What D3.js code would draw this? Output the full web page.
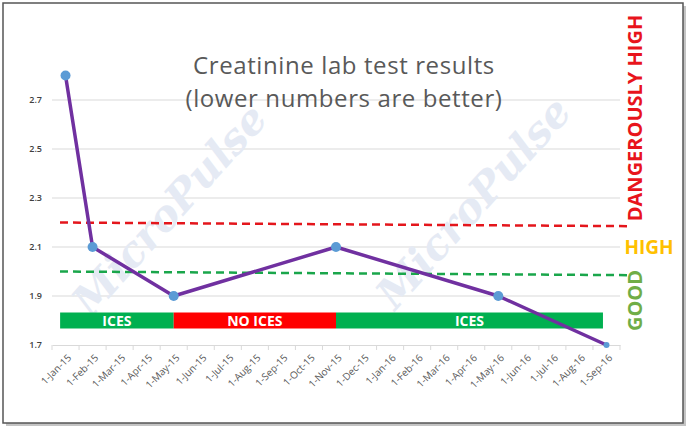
<!DOCTYPE html>
<html>
<head>
<meta charset="utf-8">
<script src="https://cdn.jsdelivr.net/npm/d3@7"></script>
<style>
  html, body { margin: 0; padding: 0; background: #fff; }
  svg { display: block; }
</style>
</head>
<body>
<svg id="chart" width="690" height="429"></svg>
<script>
// ---------------- DATA ----------------
const categories = [
  "1-Jan-15","1-Feb-15","1-Mar-15","1-Apr-15","1-May-15","1-Jun-15","1-Jul-15",
  "1-Aug-15","1-Sep-15","1-Oct-15","1-Nov-15","1-Dec-15","1-Jan-16","1-Feb-16",
  "1-Mar-16","1-Apr-16","1-May-16","1-Jun-16","1-Jul-16","1-Aug-16","1-Sep-16"
];
const creatinineDates  = ["1-Jan-15","1-Feb-15","1-May-15","1-Nov-15","1-May-16","1-Sep-16"];
const creatinineValues = [2.8, 2.1, 1.9, 2.1, 1.9, 1.7];
const yTicks = [1.7, 1.9, 2.1, 2.3, 2.5, 2.7];
const dangerLine = [2.2, 2.185];   // start, end
const goodLine   = [2.0, 1.985];   // start, end
const iceSegments = [
  { label: "ICES",    start: "1-Jan-15", end: "1-May-15", kind: "ices" },
  { label: "NO ICES", start: "1-May-15", end: "1-Nov-15", kind: "noices" },
  { label: "ICES",    start: "1-Nov-15", end: "1-Sep-16", kind: "ices" }
];
const iceBandValue = 1.8;
const titleLines = ["Creatinine lab test results", "(lower numbers are better)"];
const zoneLabels = { danger: "DANGEROUSLY HIGH", high: "HIGH", good: "GOOD" };
const watermark = "MicroPulse";

// ---------------- LAYOUT ----------------
const svg = d3.select("#chart");
const plot = { left: 52, right: 620, top: 51, bottom: 345 };

const x = d3.scaleBand().domain(categories).range([plot.left, plot.right]).padding(0);
const bw = x.bandwidth();
const cx = d => x(d) + bw / 2;
const y = d3.scaleLinear().domain([1.7, 2.9]).range([plot.bottom, plot.top]);

// frame with shadow
svg.append("rect").attr("x", 6).attr("y", 6).attr("width", 680).attr("height", 420)
  .attr("fill", "#c4c4c4");
svg.append("rect").attr("x", 3).attr("y", 3).attr("width", 680).attr("height", 420)
  .attr("fill", "#fff").attr("stroke", "#555").attr("stroke-width", 1.5);

// gridlines
svg.append("g").selectAll("line").data(yTicks.slice(1)).join("line")
  .attr("x1", plot.left).attr("x2", plot.right)
  .attr("y1", d => y(d)).attr("y2", d => y(d))
  .attr("stroke", "#d9d9d9").attr("stroke-width", 1);

// watermark
svg.append("g").selectAll("text").data([[172, 212], [476, 205]]).join("text")
  .attr("transform", d => `translate(${d[0]},${d[1]}) rotate(-48)`)
  .attr("text-anchor", "middle").attr("dominant-baseline", "middle")
  .attr("font-family", "DejaVu Serif").attr("font-style", "italic").attr("font-weight", "bold")
  .attr("font-size", 42).attr("fill", "#e5eaf4")
  .text(watermark);

// y axis labels
svg.append("g").selectAll("text").data(yTicks).join("text")
  .attr("x", 42).attr("y", d => y(d)).attr("dy", "0.35em")
  .attr("text-anchor", "end")
  .attr("font-family", "Open Sans, Liberation Sans, sans-serif").attr("font-weight", 600)
  .attr("font-size", 9).attr("fill", "#404040")
  .text(d => d.toFixed(1));

// x axis
const xAxis = d3.axisBottom(x).tickSize(0).tickFormat(d => d);
const gx = svg.append("g").attr("transform", `translate(0,${plot.bottom})`).call(xAxis);
gx.select(".domain").attr("stroke", "#d9d9d9");
gx.selectAll(".tick text")
  .attr("font-family", "Open Sans, Liberation Sans, sans-serif")
  .attr("font-size", 10).attr("fill", "#595959")
  .attr("text-anchor", "end")
  .attr("transform", "translate(4,11) rotate(-45)")
  .attr("dy", "0.35em").attr("y", 0);
// category boundary tick marks
const bounds = categories.map(c => x(c)).concat([plot.right]);
svg.append("g").selectAll("line").data(bounds).join("line")
  .attr("x1", d => d).attr("x2", d => d)
  .attr("y1", plot.bottom).attr("y2", plot.bottom + 5)
  .attr("stroke", "#d9d9d9");

// reference dashed lines
const refX0 = plot.left + 8, refX1 = plot.right + 10;
[[dangerLine, "#e4161c"], [goodLine, "#1aa64b"]].forEach(([vals, col]) => {
  svg.append("line")
    .attr("x1", refX0).attr("x2", refX1)
    .attr("y1", y(vals[0])).attr("y2", y(vals[1]))
    .attr("stroke", col).attr("stroke-width", 2.5)
    .attr("stroke-dasharray", "8,5");
});

// ICES band
const bandH = 16;
const segX = (s, i) => {
  const x0 = i === 0 ? cx(s.start) - 0.2 * bw : cx(s.start);
  const x1 = i === iceSegments.length - 1 ? cx(s.end) - 0.13 * bw : cx(s.end);
  return [x0, x1];
};
const segColor = { ices: "#00b050", noices: "#ff0000" };
const gb = svg.append("g");
iceSegments.forEach((s, i) => {
  const [x0, x1] = segX(s, i);
  gb.append("rect").attr("x", x0).attr("y", y(iceBandValue) - bandH / 2)
    .attr("width", x1 - x0).attr("height", bandH).attr("fill", segColor[s.kind]);
  gb.append("text").attr("x", (x0 + x1) / 2).attr("y", y(iceBandValue)).attr("dy", "0.36em")
    .attr("text-anchor", "middle")
    .attr("font-family", "Open Sans, Liberation Sans, sans-serif").attr("font-weight", "bold")
    .attr("font-size", 14).attr("fill", "#fff").text(s.label);
});

// title
svg.append("g").selectAll("text").data(titleLines).join("text")
  .attr("x", 344).attr("y", (d, i) => 74 + i * 33)
  .attr("text-anchor", "middle")
  .attr("font-family", "Open Sans, Lato, sans-serif").attr("font-weight", 400)
  .attr("font-size", 24).attr("letter-spacing", 0.6).attr("fill", "#595959")
  .text(d => d);

// data line
const pts = creatinineDates.map((d, i) => ({ d, v: creatinineValues[i] }));
svg.append("path").datum(pts)
  .attr("d", d3.line().x(p => cx(p.d)).y(p => y(p.v)))
  .attr("fill", "none").attr("stroke", "#7030a0").attr("stroke-width", 3.5)
  .attr("stroke-linejoin", "round");
svg.append("g").selectAll("circle").data(pts).join("circle")
  .attr("cx", p => cx(p.d)).attr("cy", p => y(p.v))
  .attr("r", (p, i) => i === pts.length - 1 ? 3 : 5)
  .attr("fill", "#5b9bd5");

// zone labels
const zoneFont = "Open Sans, Liberation Sans, sans-serif";
svg.append("text")
  .attr("transform", `translate(642,${(13 + 223) / 2}) rotate(-90)`)
  .attr("text-anchor", "middle")
  .attr("font-family", zoneFont).attr("font-weight", "bold").attr("font-size", 20)
  .attr("fill", "#e8141c").text(zoneLabels.danger);
svg.append("text")
  .attr("x", 649).attr("y", y(2.1)).attr("dy", "0.36em")
  .attr("text-anchor", "middle")
  .attr("font-family", zoneFont).attr("font-weight", "bold").attr("font-size", 19)
  .attr("fill", "#ffc000").text(zoneLabels.high);
svg.append("text")
  .attr("transform", `translate(642,${(269 + 332) / 2}) rotate(-90)`)
  .attr("text-anchor", "middle")
  .attr("font-family", zoneFont).attr("font-weight", "bold").attr("font-size", 20)
  .attr("fill", "#70ad47").text(zoneLabels.good);
</script>
</body>
</html>
